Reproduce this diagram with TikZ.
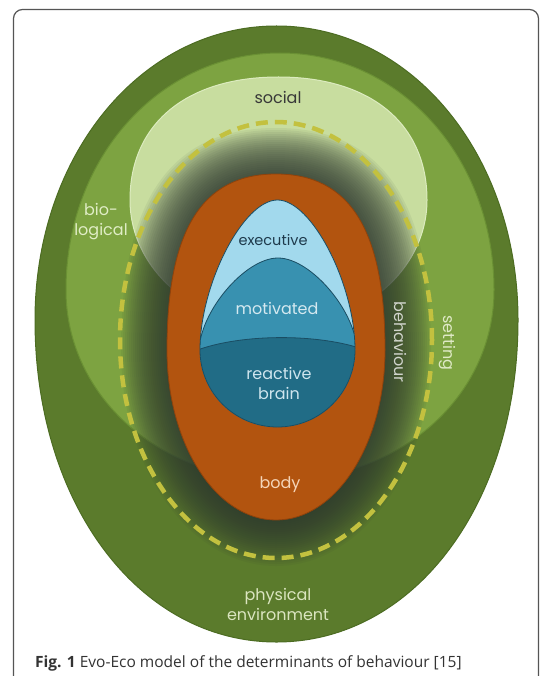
\documentclass[tikz,border=0pt]{standalone}
\usepackage{fontspec}
\newfontfamily\dia{Poppins}
\newfontfamily\capf{Open Sans}
\newcommand\eggp[7]{({(#1)+(#3)},{#2}) .. controls ({(#1)+(#3)},{(#2)-(#6)*(#4)}) and ({(#1)+(#6)*(#3)},{(#2)-(#4)}) .. ({#1},{(#2)-(#4)}) .. controls ({(#1)-(#6)*(#3)},{(#2)-(#4)}) and ({(#1)-(#3)},{(#2)-(#6)*(#4)}) .. ({(#1)-(#3)},{#2}) .. controls ({(#1)-(#3)},{(#2)+(#7)*(#5)}) and ({(#1)-(#7)*(#3)},{(#2)+(#5)}) .. ({#1},{(#2)+(#5)}) .. controls ({(#1)+(#7)*(#3)},{(#2)+(#5)}) and ({(#1)+(#3)},{(#2)+(#7)*(#5)}) .. ({(#1)+(#3)},{#2}) -- cycle}
\definecolor{outerg}{HTML}{5B7B2C}
\definecolor{outerl}{HTML}{4C6C22}
\definecolor{midg}{HTML}{7DA341}
\definecolor{midl}{HTML}{6A9034}
\definecolor{lightg}{HTML}{C8DD9F}
\definecolor{lightr}{HTML}{DCEBBF}
\definecolor{lightl}{HTML}{E0EDC6}
\definecolor{shadowc}{HTML}{2E3830}
\definecolor{dashc}{HTML}{C3C13F}
\definecolor{orangec}{HTML}{B2540F}
\definecolor{orangel}{HTML}{8E420C}
\definecolor{execc}{HTML}{A2D9ED}
\definecolor{motc}{HTML}{3891B0}
\definecolor{reactc}{HTML}{216C86}
\definecolor{bluel}{HTML}{1A4D63}
\definecolor{framec}{HTML}{555555}
\definecolor{captc}{HTML}{333333}
\begin{document}
\begin{tikzpicture}[x=1pt,y=-1pt,
  lbl/.style={font=\dia\fontsize{16}{20}\selectfont, align=center, inner sep=0pt},
  outline/.style={draw=bluel, line width=0.8pt}]
\useasboundingbox (0,0) rectangle (539,676);
\begin{scope}
\clip (0,0) rectangle (539,676);
\fill[white] (0,0) rectangle (539,676);
\draw[framec, line width=1.2pt, rounded corners=9pt] (13.5,9.5) rectangle (538.5,700);
% physical environment
\fill[outerg, draw=outerl, line width=1pt] \eggp{276.5}{320}{241.5}{294}{322}{0.56}{0.57};
% biological
\fill[midg, draw=midl, line width=1pt] \eggp{280}{290}{214}{237}{190}{0.56}{0.56};
% social
\fill[lightg, draw=lightr, line width=1pt] \eggp{278.5}{200}{148.5}{123}{127}{0.62}{0.552};
% behaviour shadow
\foreach \d in {1,...,23} {
  \fill[shadowc, opacity=0.065] \eggp{276}{350}{109+2*\d}{176+2*\d}{170+2*\d}{0.68}{0.552};
}
% setting
\draw[dashc, line width=4.5pt, dash pattern=on 12pt off 7pt] (276,340) ellipse [x radius=156pt, y radius=218pt];
% body
\fill[orangec, draw=orangel, line width=0.8pt] \eggp{276}{350}{109}{176}{170}{0.68}{0.552};
% brain
\fill[execc] \eggp{277.5}{350}{77.5}{150}{77}{0.44}{0.552};
\begin{scope}
\clip \eggp{277.5}{350}{77.5}{150}{77}{0.44}{0.552};
\fill[motc, outline] \eggp{278}{352}{79}{94}{80}{0.42}{0.552};
\fill[reactc] (190,353) .. controls (235,333) and (320,333) .. (365,350) -- (365,440) -- (190,440) -- cycle;
\draw[outline] (190,353) .. controls (235,333) and (320,333) .. (365,350);
\end{scope}
\draw[outline] \eggp{277.5}{350}{77.5}{150}{77}{0.44}{0.552};
% labels
\node[lbl, text=black!78] (social) at (278,97) {social};
\node[lbl, text=lightl] (bio) at (101,222) {bio-\\logical};
\node[lbl, font=\dia\fontsize{14.5}{18}\selectfont, text={rgb,255:red,30;green,58;blue,76}] (exec) at (273,240) {executive};
\node[lbl, text={rgb,255:red,213;green,233;blue,240}] (mot) at (277,308) {motivated};
\node[lbl, text={rgb,255:red,207;green,229;blue,238}] (react) at (279,383) {reactive\\brain};
\node[lbl, text={rgb,255:red,245;green,213;blue,184}] (body) at (280,485) {body};
\node[lbl, rotate=-90, text={rgb,255:red,208;green,212;blue,204}] (beh) at (401,342) {behaviour};
\node[lbl, rotate=-90, text={rgb,255:red,223;green,233;blue,198}] (set) at (447,343) {setting};
\node[lbl, text={rgb,255:red,219;green,229;blue,192}] (phys) at (278,604) {physical\\environment};
\node[anchor=base west, inner sep=0pt, text=captc, font=\capf\fontsize{15.5}{18}\selectfont] (cap) at (35,667) {\textbf{Fig. 1} Evo-Eco model of the determinants of behaviour [15]};
\end{scope}
\end{tikzpicture}
\end{document}
